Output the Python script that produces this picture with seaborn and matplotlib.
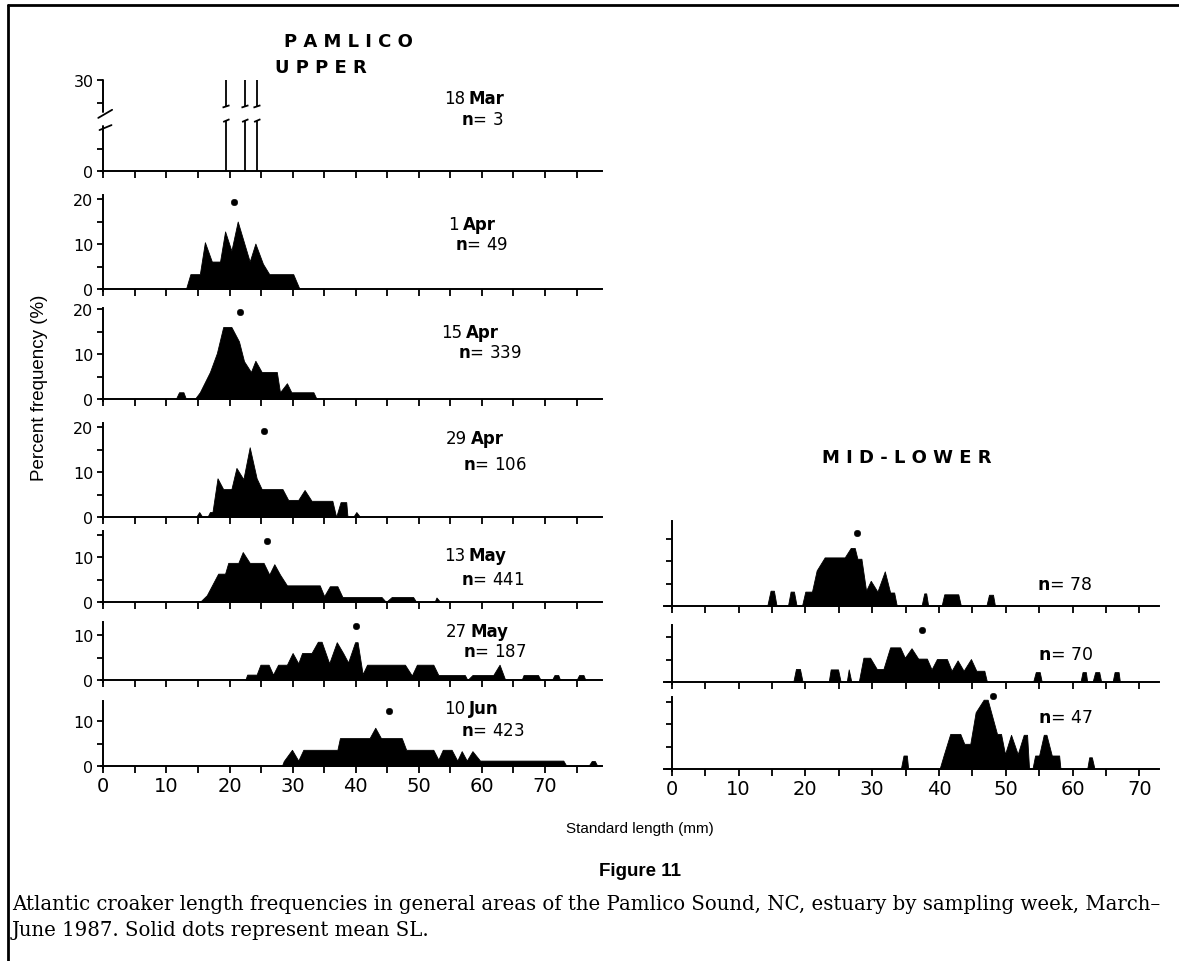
import numpy as np
import matplotlib
matplotlib.use("Agg")
import matplotlib.pyplot as plt
from matplotlib.lines import Line2D
import seaborn as sns

# ---- data (length mm, percent frequency) ----
# 18 Mar, upper: three single fish
mar18_mm = [19.5, 22.5, 24.4]
mar18_pct = [33.3, 33.3, 33.3]

apr01_mm = [13.1, 13.8, 15.3, 16.1, 17.2, 18.5, 19.3, 20.3, 21.3, 23.2, 24.1, 25.3, 26.3, 30.1, 31.1]
apr01_pct = [0, 3.3, 3.3, 10.4, 6.1, 6.1, 12.8, 8.5, 15.0, 6.1, 10.1, 5.6, 3.3, 3.3, 0]

apr15_mm = [11.5, 12.0, 12.7, 13.1, 14.5, 15.3, 16.9, 18.0, 19.0, 20.3, 21.5, 22.3, 23.4, 24.1,
            25.1, 27.5, 28.0, 29.1, 29.8, 33.3, 33.8]
apr15_pct = [0, 1.5, 1.5, 0, 0, 1.5, 6.0, 10.2, 16.0, 16.0, 12.8, 8.4, 6.0, 8.5,
             6.0, 6.0, 1.5, 3.5, 1.5, 1.5, 0]

apr29_mm = [14.7, 15.2, 15.7, 16.5, 16.9, 17.3, 18.1, 19.0, 20.3, 21.1, 22.2, 23.2, 24.3, 25.1,
            28.4, 29.3, 30.9, 31.9, 33.0, 36.3, 36.9, 37.6, 38.5, 38.7, 39.6, 40.1, 40.7]
apr29_pct = [0, 1.1, 0, 0, 1.1, 1.1, 8.6, 6.2, 6.2, 10.9, 8.4, 15.5, 8.6, 6.2,
             6.2, 3.8, 3.8, 6.0, 3.6, 3.6, 0, 3.3, 3.3, 0, 0, 1.1, 0]

may13_mm = [15.3, 16.4, 18.2, 19.3, 19.8, 21.4, 22.1, 23.2, 25.4, 26.3, 27.1, 28.0, 29.1, 34.3,
            35.0, 35.9, 37.1, 37.9, 44.1, 44.8, 45.7, 49.1, 49.6, 52.5, 52.8, 53.4]
may13_pct = [0, 1.5, 6.3, 6.3, 8.7, 8.7, 11.1, 8.7, 8.7, 6.1, 8.4, 6.1, 3.7, 3.7,
             1.3, 3.5, 3.5, 1.1, 1.1, 0, 1.1, 1.1, 0, 0, 1.0, 0]

may27_mm = [22.5, 22.8, 24.3, 24.9, 26.2, 26.9, 27.7, 29.1, 30.0, 30.9, 31.5, 33.0, 34.0, 34.6,
            35.8, 37.0, 38.0, 38.8, 39.9, 40.3, 41.1, 41.8, 47.8, 48.9, 49.7, 52.3, 53.1, 57.3,
            57.7, 58.5, 61.8, 62.8, 63.7, 66.3, 66.6, 68.9, 69.3, 71.1, 71.5, 72.1, 72.4, 75.0,
            75.4, 76.1, 76.4]
may27_pct = [0, 1.2, 1.2, 3.4, 3.4, 1.2, 3.4, 3.4, 6.0, 3.7, 6.0, 6.0, 8.5, 8.5,
             3.7, 8.4, 6.0, 3.9, 8.4, 8.4, 1.3, 3.4, 3.4, 1.0, 3.4, 3.4, 1.1, 1.1,
             0, 1.1, 1.1, 3.4, 0, 0, 1.1, 1.1, 0, 0, 1.1, 1.1, 0, 0,
             1.1, 1.1, 0]

jun10_mm = [28.3, 28.6, 29.9, 30.9, 31.7, 37.1, 37.5, 42.2, 43.1, 44.0, 47.3, 48.0, 52.3, 53.1,
            53.8, 55.2, 56.1, 56.8, 57.6, 58.5, 59.7, 72.9, 73.4, 76.9, 77.4, 77.9, 78.3]
jun10_pct = [0, 1.1, 3.6, 1.2, 3.6, 3.6, 6.2, 6.2, 8.5, 6.2, 6.2, 3.6, 3.6, 1.4,
             3.6, 3.6, 1.2, 3.3, 1.2, 3.3, 1.2, 1.2, 0, 0, 1.1, 1.1, 0]

# mid-lower area
ml1_mm = [14.3, 14.8, 15.3, 15.7, 17.4, 17.8, 18.3, 18.7, 19.5, 20.0, 21.0, 21.7, 22.9, 25.9,
          26.8, 27.4, 27.8, 28.4, 29.1, 29.8, 30.8, 31.9, 32.7, 33.3, 33.7, 37.4, 37.8, 38.1,
          38.4, 40.4, 40.8, 42.9, 43.3, 47.1, 47.5, 48.1, 48.4]
ml1_pct = [0, 3.4, 3.4, 0, 0, 3.2, 3.2, 0, 0, 3.2, 3.2, 7.9, 10.8, 10.8,
           12.9, 12.9, 10.5, 10.5, 3.4, 5.6, 3.2, 7.7, 3.0, 3.0, 0, 0, 2.8, 2.8,
           0, 0, 2.6, 2.6, 0, 0, 2.5, 2.5, 0]

ml2_mm = [18.2, 18.6, 19.2, 19.6, 23.5, 23.8, 24.9, 25.3, 26.2, 26.5, 26.9, 28.0, 28.7, 29.7,
          30.7, 31.7, 32.7, 34.2, 34.9, 35.9, 36.9, 38.2, 38.9, 39.7, 41.2, 41.9, 42.8, 43.7,
          44.8, 45.6, 46.8, 47.2, 54.1, 54.5, 55.1, 55.4, 61.2, 61.5, 62.0, 62.2, 63.0, 63.4,
          64.0, 64.3, 66.0, 66.3, 66.9, 67.1]
ml2_pct = [0, 2.9, 2.9, 0, 0, 2.8, 2.8, 0, 0, 2.8, 0, 0, 5.4, 5.4,
           2.9, 2.9, 7.7, 7.7, 5.4, 7.5, 5.2, 5.2, 2.8, 5.1, 5.1, 2.5, 4.8, 2.5,
           5.1, 2.5, 2.5, 0, 0, 2.2, 2.2, 0, 0, 2.2, 2.2, 0, 0, 2.2,
           2.2, 0, 0, 2.2, 2.2, 0]

ml3_mm = [34.3, 34.7, 35.2, 35.4, 40.1, 40.7, 41.7, 43.2, 43.8, 44.7, 45.5, 46.7, 47.3, 48.7,
          49.3, 49.9, 50.8, 51.8, 52.7, 53.2, 53.5, 54.0, 54.4, 55.0, 55.7, 56.1, 56.9, 58.0,
          58.2, 62.2, 62.5, 62.9, 63.3]
ml3_pct = [0, 3.0, 3.0, 0, 0, 3.0, 7.8, 7.8, 5.6, 5.6, 12.6, 15.4, 15.4, 7.8,
           7.8, 3.3, 7.6, 3.3, 7.6, 7.6, 0, 0, 3.0, 3.0, 7.6, 7.6, 3.0, 3.0,
           0, 0, 2.6, 2.6, 0]

# mean SL dots (mm, height of dot in %)
upper_mean = [None, 20.7, 21.6, 25.4, 26.0, 40.1, 45.3]
upper_dot = [None, 19.4, 19.3, 19.2, 13.5, 11.9, 12.2]
lower_mean = [27.8, 37.4, 48.1]
lower_dot = [16.2, 11.6, 16.3]

upper_dates = [("18", "Mar"), ("1", "Apr"), ("15", "Apr"), ("29", "Apr"),
               ("13", "May"), ("27", "May"), ("10", "Jun")]
upper_n = ["3", "49", "339", "106", "441", "187", "423"]
lower_n = ["78", "70", "47"]

upper_mm = [None, apr01_mm, apr15_mm, apr29_mm, may13_mm, may27_mm, jun10_mm]
upper_pct = [None, apr01_pct, apr15_pct, apr29_pct, may13_pct, may27_pct, jun10_pct]
lower_mm = [ml1_mm, ml2_mm, ml3_mm]
lower_pct = [ml1_pct, ml2_pct, ml3_pct]

# ---- layout (pixels of the 1179x962 picture) ----
W, H = 1179, 962
S = 4.5  # px per percent
up_base = [172, 290, 400, 518, 603, 681, 767]
up_top = [30, 21, 20.3, 21, 15.7, 13, 14.5]
lo_base = [607, 683, 770]
lo_top = [18.9, 12.7, 16.1]
up_x0, up_mm_px = 103.3, 6.31
lo_x0, lo_mm_px = 671.7, 6.68
up_xlim = (-0.3, 79.0)
lo_xlim = (-1.2, 72.9)
date_pos = [(465, 99, 120), (459, 225, 245), (462, 333, 353), (467, 439, 465),
            (465, 556, 580), (467, 632, 652), (465, 709, 731)]
lo_npos = [(1037, 585), (1038, 655), (1038, 718)]

sns.set_style("ticks")
plt.rcParams['font.family'] = ['DejaVu Sans']
plt.rcParams['axes.linewidth'] = 1.4
for key in ['text.color', 'axes.labelcolor', 'xtick.color', 'ytick.color', 'axes.edgecolor']:
    plt.rcParams[key] = 'black'

fig = plt.figure(figsize=(W / 100, H / 100), dpi=100)


def fwd(y):
    y = np.asarray(y, float)
    return np.where(y <= 11, y, np.where(y >= 24, y - 9.8, 11 + (y - 11) * 3.2 / 13))


def inv(f):
    f = np.asarray(f, float)
    return np.where(f <= 11, f, np.where(f >= 14.2, f + 9.8, 11 + (f - 11) * 13 / 3.2))


def make_ax(x0, mmpx, xlim, base, top_f):
    left = x0 + xlim[0] * mmpx
    right = x0 + xlim[1] * mmpx
    bot = base + 0.5 * S
    top = base - top_f * S
    return fig.add_axes([left / W, 1 - bot / H, (right - left) / W, (bot - top) / H])


def style(ax, xlim, ymax, yticks, ylabels, xlab):
    ax.set_xlim(*xlim)
    ax.set_ylim(-0.5, ymax)
    ax.spines['left'].set_position(('data', 0))
    ax.spines['bottom'].set_position(('data', 0))
    sns.despine(ax=ax)
    xt = np.arange(0, xlim[1], 5)
    ax.set_xticks(xt)
    if xlab:
        ax.set_xticklabels([str(int(v)) if v % 10 == 0 else "" for v in xt])
    else:
        ax.set_xticklabels([])
    ax.set_yticks(yticks)
    ax.set_yticklabels(ylabels)
    ax.tick_params(axis='x', direction='out', length=5, width=1.3, labelsize=14, pad=2)
    ax.tick_params(axis='y', direction='out', length=4, width=1.3, labelsize=11.5, pad=3)
    ax.set_xlabel("")
    ax.set_ylabel("")
    ax.patch.set_alpha(0)


# ---- upper (left column) ----
for i in range(7):
    top_f = 20.2 if i == 0 else up_top[i]
    ax = make_ax(up_x0, up_mm_px, up_xlim, up_base[i], top_f)
    if i == 0:
        ax.set_yscale('function', functions=(fwd, inv))
        kw = dict(color='black', lw=1.3, clip_on=False, solid_capstyle='butt')
        for m, p in zip(mar18_mm, mar18_pct):
            ax.plot([m, m], [0, min(p, 11.4)], **kw)
            ax.plot([m - 0.5, m + 0.5], [10.9, inv(11.5)], **kw)
            ax.plot([m, m], [24.2, min(p, 30)], **kw)
            ax.plot([m - 0.6, m + 0.5], [inv(14.1), inv(14.6)], **kw)
        style(ax, up_xlim, 30, [0, 5, 25, 30], ["0", "", "", "30"], False)
        ax.spines['left'].set_visible(False)
        ax.plot([0, 0], [-0.5, 10.0], lw=1.4, color='black', clip_on=False)
        ax.plot([0, 0], [inv(13.1), 30], lw=1.4, color='black', clip_on=False)
        ax.plot([-0.6, 1.3], [9.1, inv(10.2)], lw=1.3, color='black', clip_on=False)
        ax.plot([-0.8, 1.4], [inv(11.8), inv(13.6)], lw=1.3, color='black', clip_on=False)
    else:
        ax.fill_between(upper_mm[i], upper_pct[i], 0, color='black', lw=0.6,
                        edgecolor='black')
        sns.scatterplot(x=[upper_mean[i]], y=[upper_dot[i]], ax=ax, color='black',
                        s=22, edgecolor='black', legend=False, clip_on=False)
        if up_top[i] > 19:
            yt, yl = [0, 5, 10, 15, 20], ["0", "", "10", "", "20"]
        else:
            yt = [v for v in [0, 5, 10, 15] if v <= up_top[i]]
            yl = ["0", "", "10", ""][:len(yt)]
        style(ax, up_xlim, up_top[i], yt, yl, i == 6)

    xr, yd, yn = date_pos[i]
    num, mon = upper_dates[i]
    fig.text(xr / W, 1 - yd / H, num, ha='right', va='center', fontsize=12)
    fig.text((xr + 4) / W, 1 - yd / H, mon, ha='left', va='center', fontsize=12,
             fontweight='bold')
    fig.text((xr - 4) / W, 1 - yn / H, r"$\mathbf{n}$= " + upper_n[i], ha='left',
             va='center', fontsize=12)

# ---- mid-lower (right column) ----
for j in range(3):
    ax = make_ax(lo_x0, lo_mm_px, lo_xlim, lo_base[j], lo_top[j])
    ax.fill_between(lower_mm[j], lower_pct[j], 0, color='black', lw=0.6, edgecolor='black')
    sns.scatterplot(x=[lower_mean[j]], y=[lower_dot[j]], ax=ax, color='black',
                    s=22, edgecolor='black', legend=False, clip_on=False)
    yt = [v for v in [0, 5, 10, 15] if v <= lo_top[j]]
    style(ax, lo_xlim, lo_top[j], yt, [""] * len(yt), j == 2)
    xn, yn = lo_npos[j]
    fig.text(xn / W, 1 - yn / H, r"$\mathbf{n}$= " + lower_n[j], ha='left',
             va='center', fontsize=12.5)

# ---- headings and labels ----
fig.text(348 / W, 1 - 42 / H, "P A M L I C O", ha='center', va='center',
         fontsize=13, fontweight='bold')
fig.text(275 / W, 1 - 68 / H, "U P P E R", ha='left', va='center',
         fontsize=13, fontweight='bold')
fig.text(907 / W, 1 - 458 / H, "M I D - L O W E R", ha='center', va='center',
         fontsize=13, fontweight='bold')
fig.text(40 / W, 1 - 388 / H, "Percent frequency (%)", rotation=90, ha='center',
         va='center', fontsize=13.5, family=['Liberation Sans', 'DejaVu Sans'])
fig.text(640 / W, 1 - 829 / H, "Standard length (mm)", ha='center', va='center',
         fontsize=11, family=['Liberation Sans', 'DejaVu Sans'])
fig.text(640 / W, 1 - 872 / H, "Figure 11", ha='center', va='center',
         fontsize=13.5, fontweight='bold', family=['Liberation Sans', 'DejaVu Sans'])
fig.text(12 / W, 1 - 905 / H,
         "Atlantic croaker length frequencies in general areas of the Pamlico Sound, NC, "
         "estuary by sampling week, March\u2013",
         ha='left', va='center', fontsize=14.2, family=['DejaVu Serif'])
fig.text(12 / W, 1 - 931 / H, "June 1987. Solid dots represent mean SL.",
         ha='left', va='center', fontsize=14.2, family=['DejaVu Serif'])

# frame (top and left rules)
fig.add_artist(Line2D([8 / W, 1], [1 - 6 / H, 1 - 6 / H], color='black', lw=2,
                      transform=fig.transFigure))
fig.add_artist(Line2D([8 / W, 8 / W], [0, 1 - 6 / H], color='black', lw=2,
                      transform=fig.transFigure))

fig.savefig("out.png", dpi=100)
